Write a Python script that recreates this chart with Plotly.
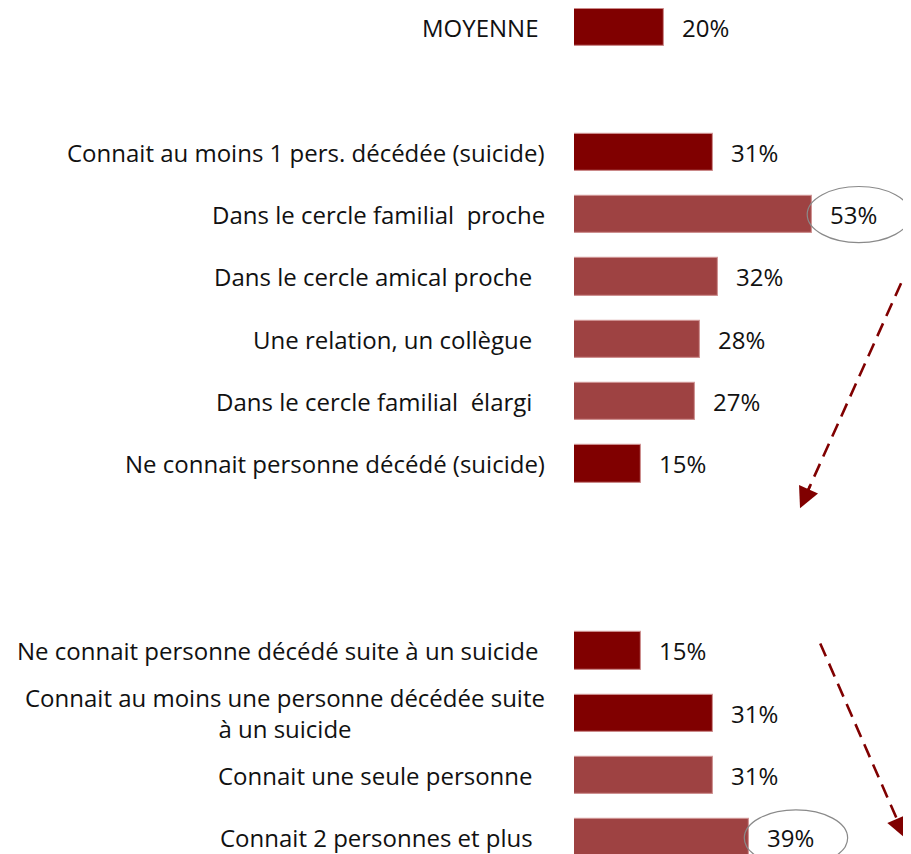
import plotly.graph_objects as go

NB = "\u00a0"
labels = [
    "MOYENNE" + NB,
    "",
    "Connait au moins 1 pers. décédée (suicide)",
    "Dans le cercle familial" + NB + " proche",
    "Dans le cercle amical proche" + NB + NB,
    "Une relation, un collègue" + NB + NB,
    "Dans le cercle familial" + NB + " élargi" + NB + NB,
    "Ne connait personne décédé (suicide)",
    "",
    "",
    "Ne connait personne décédé suite à un suicide" + NB,
    "Connait au moins une personne décédée suite<br>à un suicide",
    "Connait une seule personne" + NB + NB,
    "Connait 2 personnes et plus" + NB + NB,
]
values = [20, None, 31, 53, 32, 28, 27, 15, None, None, 15, 31, 31, 39]
dark = [True, None, True, False, False, False, False, True, None, None, True, True, False, False]
highlighted = [3, 13]

DARK = "#800000"
LIGHT = "#9E4242"

xs, ys, cols = [], [], []
for i, v in enumerate(values):
    if v is None:
        continue
    xs.append(v)
    ys.append(i)
    cols.append(DARK if dark[i] else LIGHT)

fig = go.Figure()
fig.add_trace(go.Bar(
    x=xs, y=ys, orientation="h", width=0.6,
    marker=dict(color=cols, line=dict(color="rgba(205,140,140,0.8)", width=1.2)),
    hoverinfo="skip",
))

FONT = "Open Sans"
FS = 24
for i, lab in enumerate(labels):
    if lab:
        fig.add_annotation(
            x=0, y=i, xref="x", yref="y", text=lab, showarrow=False,
            xanchor="right", yanchor="middle", xshift=-27, align="center",
            font=dict(family=FONT, size=FS, color="#111111"),
        )
for i, v in enumerate(values):
    if v is not None:
        fig.add_annotation(
            x=v, y=i, xref="x", yref="y", text=f"{v}%", showarrow=False,
            xanchor="left", yanchor="middle", xshift=16,
            font=dict(family=FONT, size=FS, color="#111111"),
        )

# ellipses around highlighted values
for i in highlighted:
    v = values[i]
    fig.add_shape(type="circle", xref="x", yref="y",
                  x0=v - 1.1, x1=v + 21.9, y0=i - 0.45, y1=i + 0.45,
                  line=dict(color="#8a8a8a", width=1.2), layer="above")

# dashed arrows
arrows = [((74.8, 3.78), (50.3, 7.71)), ((54.8, 9.88), (73.7, 13.0))]
for (sx, sy), (tx, ty) in arrows:
    fig.add_shape(type="line", xref="x", yref="y", x0=sx, y0=sy,
                  x1=sx + (tx - sx) * 0.93, y1=sy + (ty - sy) * 0.93,
                  line=dict(color=DARK, width=2.6, dash="14px,8px"), layer="above")
    fig.add_annotation(x=tx, y=ty, xref="x", yref="y",
                       ax=sx + (tx - sx) * 0.9, ay=sy + (ty - sy) * 0.9,
                       axref="x", ayref="y", showarrow=True, text="",
                       arrowhead=2, arrowsize=1.6, arrowwidth=2.6, arrowcolor=DARK)

fig.update_layout(
    width=903, height=846,
    margin=dict(l=566, r=0, t=0, b=0),
    plot_bgcolor="white", paper_bgcolor="white",
    showlegend=False, bargap=0,
    xaxis=dict(range=[0, 75], visible=False, fixedrange=True),
    yaxis=dict(range=[13.257, -0.313], visible=False, fixedrange=True),
)
fig.write_html("out.html")
